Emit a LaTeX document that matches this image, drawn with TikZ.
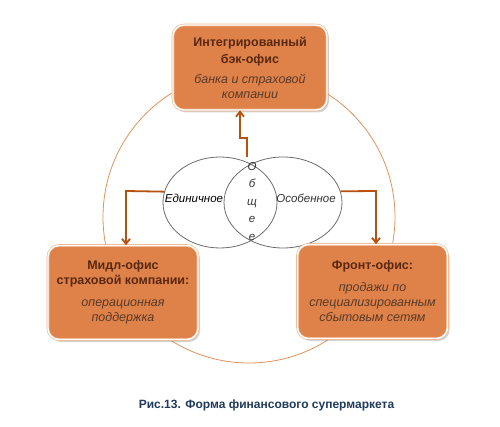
\documentclass[tikz,border=0pt]{standalone}
\usepackage{fontspec}
\setmainfont{Liberation Sans}
\usetikzlibrary{shapes.geometric,arrows.meta,shadows}
\definecolor{boxfill}{HTML}{DE824A}
\definecolor{boxline}{HTML}{EDB48C}
\definecolor{boldtxt}{HTML}{5A2810}
\definecolor{ittxt}{HTML}{5A3A28}
\definecolor{arrowc}{HTML}{B8500F}
\definecolor{ringc}{HTML}{E0925C}
\definecolor{capc}{HTML}{1F3A5C}
\tikzset{
  officebox/.style={rectangle, rounded corners=11pt, fill=boxfill, draw=boxline,
    line width=0.6pt, double=white, double distance=1.4pt,
    minimum width=150pt, minimum height=94pt, align=center, inner sep=0pt,
    font=\fontsize{12.5}{15}\selectfont,
    drop shadow={opacity=0.35, shadow xshift=2pt, shadow yshift=-2.5pt}},
  venn/.style={ellipse, draw=black!58, line width=0.8pt, inner sep=0pt},
  link/.style={draw=arrowc, line width=1.8pt, -{Straight Barb[length=5pt,width=8pt]}},
}
\newcommand{\bl}[1]{{\bfseries\color{boldtxt}#1}}
\newcommand{\il}[1]{{\itshape\color{ittxt}#1}}
\begin{document}
\begin{tikzpicture}[x=1pt,y=-1pt]
\useasboundingbox (0,0) rectangle (500,427);
% ring
\draw[ringc, line width=0.8pt] (249,217) circle (146);
% venn
\node[venn, minimum width=114pt, minimum height=91pt] (L) at (220,202.5) {};
\node[venn, minimum width=118pt, minimum height=91pt] (R) at (283,202.5) {};
\node[font=\fontsize{11.5}{14}\selectfont\itshape, text=black] (Le) at (194,198) {Единичное};
\node[font=\fontsize{11.5}{14}\selectfont\itshape, text=black!80] (Ro) at (306,198) {Особенное};
\node[font=\fontsize{11.5}{17.5}\selectfont\itshape, text=black!80, align=center] (Ob) at (252,201.5) {О\\б\\щ\\е\\е};
% boxes
\node[officebox, minimum width=154pt, minimum height=85pt] (T) at (250,67.5)
  {\bl{Интегрированный}\\[2pt]\bl{бэк-офис}\\[5pt]\il{банка и страховой}\\\il{компании}};
\node[officebox] (M) at (123,292.5)
  {\bl{Мидл-офис}\\\bl{страховой компании:}\\[7pt]\il{операционная}\\\il{поддержка}};
\node[officebox] (F) at (372.5,291.5)
  {\bl{Фронт-офис:}\\[7pt]\il{продажи по}\\\il{специализированным}\\\il{сбытовым сетям}};
% arrows
\coordinate (itop) at (247,157);
\draw[link] (itop) -- (247,138) -- (240,138) -- (T.south -| 240,0);
\draw[link] (L.169) -- (126,191) -- (M.north -| 126,0);
\draw[link] (R.11) -- (376,191) -- (F.north -| 376,0);
% caption
\node[font=\fontsize{12}{14}\selectfont\bfseries, text=capc] (cap) at (266.5,405) {Рис.13. Форма финансового супермаркета};
\end{tikzpicture}
\end{document}
